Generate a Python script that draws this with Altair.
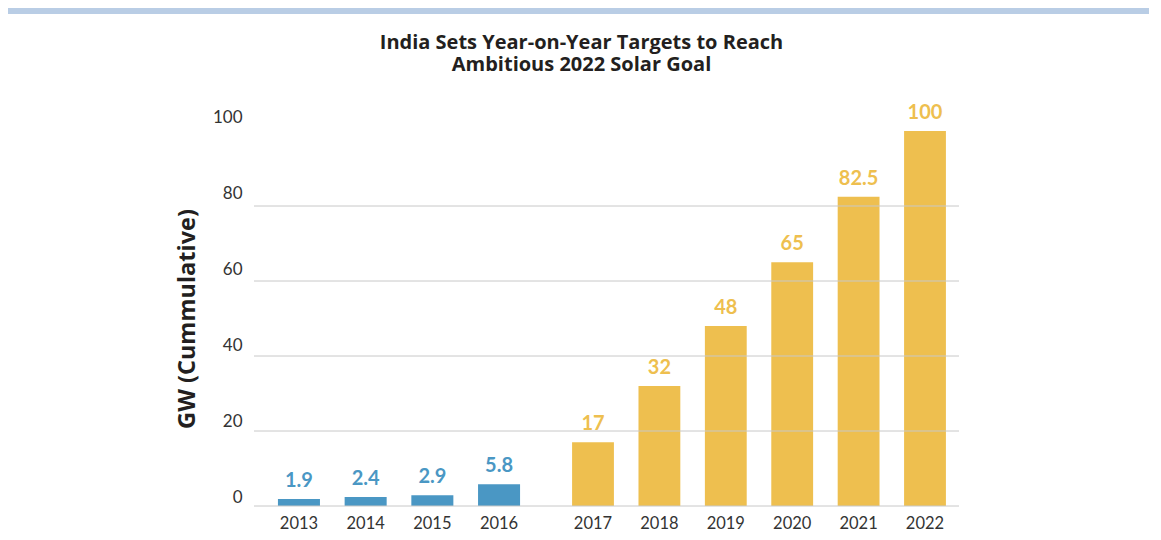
import altair as alt
import pandas as pd

# ---- data ----
years_actual = ["2013", "2014", "2015", "2016"]
gw_actual = [1.9, 2.4, 2.9, 5.8]
years_target = ["2017", "2018", "2019", "2020", "2021", "2022"]
gw_target = [17, 32, 48, 65, 82.5, 100]
y_ticks = [0, 20, 40, 60, 80, 100]
grid_values = [0, 20, 40, 60, 80]

title_lines = ["India Sets Year-on-Year Targets to Reach", "Ambitious 2022 Solar Goal"]
y_title = "GW (Cummulative)"

BLUE = "#4a97c4"
GOLD = "#eebf4f"
FONT = "Lato"
BOLD_FONT = "Open Sans"

df_a = pd.DataFrame({"year": years_actual, "gw": gw_actual})
df_t = pd.DataFrame({"year": years_target, "gw": gw_target})
df_grid = pd.DataFrame({"gw": grid_values})

y_scale = alt.Scale(domain=[0, 100], nice=False)

y_enc = alt.Y(
    "gw:Q",
    scale=y_scale,
    axis=alt.Axis(
        values=y_ticks,
        title=y_title,
        titleFont=BOLD_FONT,
        titleFontSize=23.5,
        titleFontWeight="bold",
        titleColor="#231f20",
        titlePadding=13,
        labelFont=FONT,
        labelFontSize=17,
        labelColor="#333333",
        labelPadding=12,
        labelBaseline="alphabetic",
        labelOffset={"expr": "-4 - datum.value * 0.05"},
        domain=False,
        ticks=False,
        grid=False,
    ),
)


def x_axis():
    return alt.Axis(
        title=None,
        orient="bottom",
        labelAngle=0,
        labelFont=FONT,
        labelFontSize=16.5,
        labelColor="#333333",
        labelPadding=9,
        domain=False,
        ticks=False,
        grid=False,
    )


x_a = alt.X(
    "year:N",
    sort=years_actual,
    scale=alt.Scale(range=[11.6, 278.4], paddingInner=0.37, paddingOuter=0.185),
    axis=x_axis(),
)
x_t = alt.X(
    "year:N",
    sort=years_target,
    scale=alt.Scale(range=[305.8, 704.2], paddingInner=0.37, paddingOuter=0.185),
    axis=x_axis(),
)

grid = alt.Chart(df_grid).mark_rule(color="#c8c8c8", strokeWidth=1).encode(
    y=alt.Y("gw:Q", scale=y_scale), x=alt.value(0), x2=alt.value(705)
)

base_a = alt.Chart(df_a).encode(x=x_a, y=y_enc)
layer_a = alt.layer(
    base_a.mark_bar(color=BLUE),
    base_a.mark_text(dy=-8, baseline="bottom", font=FONT, fontWeight="bold",
                     fontSize=20, color=BLUE).encode(text=alt.Text("gw:Q")),
)

base_t = alt.Chart(df_t).encode(x=x_t, y=y_enc)
layer_t = alt.layer(
    base_t.mark_bar(color=GOLD),
    base_t.mark_text(dy=-8, baseline="bottom", font=FONT, fontWeight="bold",
                     fontSize=20, color=GOLD).encode(text=alt.Text("gw:Q")),
)

# decorative top frame stripe
stripe = alt.Chart(pd.DataFrame({"d": [0]})).mark_rect(color="#b9cde5").encode(
    x=alt.value(-246), x2=alt.value(899), y=alt.value(-123), y2=alt.value(-117)
)

chart = (
    alt.layer(stripe, layer_a, layer_t, grid)
    .resolve_scale(x="independent")
    .resolve_axis(x="independent")
    .properties(
        width=705,
        height=375,
        autosize=alt.AutoSizeParams(type="none"),
        padding={"left": 246, "top": 123, "right": 190, "bottom": 26},
        background="white",
        title=alt.Title(
            title_lines,
            font=BOLD_FONT,
            fontSize=20,
            fontWeight="bold",
            color="#231f20",
            anchor="middle",
            dx=-25,
            lineHeight=22,
            offset=-67,
        ),
    )
    .configure_view(stroke=None)
)

chart.save("out.html", embed_options={"renderer": "svg", "actions": False})
